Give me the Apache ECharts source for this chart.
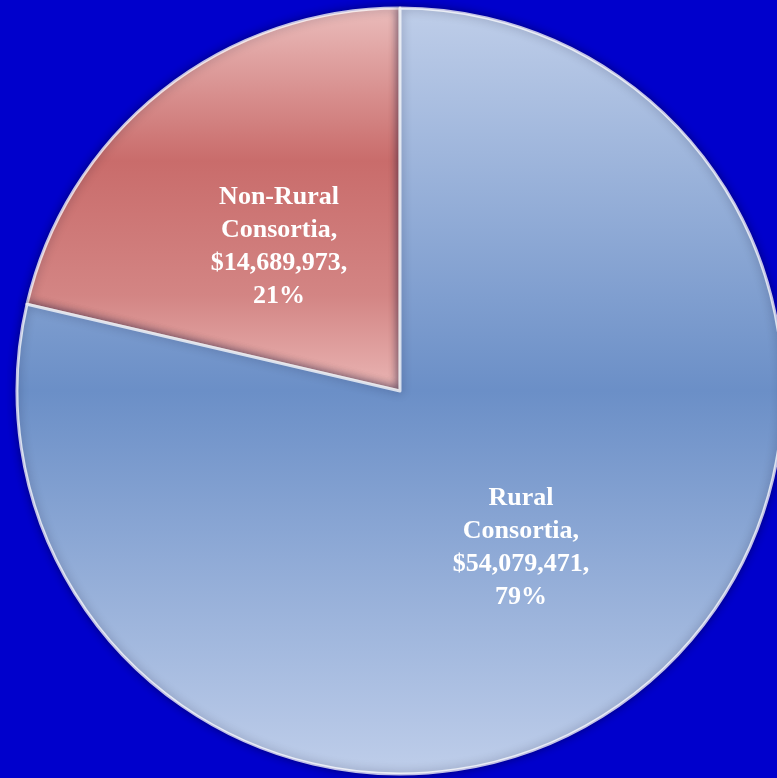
<!DOCTYPE html>
<html>
<head>
<meta charset="utf-8">
<script src="https://cdn.jsdelivr.net/npm/echarts@6/dist/echarts.min.js"></script>
<style>
html,body{margin:0;padding:0;background:#0000CC;}
#chart{width:777px;height:778px;}
</style>
</head>
<body>
<div id="chart"></div>
<script>
const categories = ['Non-Rural\nConsortia', 'Rural\nConsortia'];
const values = [14689973, 54079471];
const percents = [21, 79];

function grad(stops) {
  return new echarts.graphic.LinearGradient(0, 0, 0, 1, stops.map(s => ({offset: s[0], color: s[1]})));
}
const fills = [
  grad([[0, '#EBBDBC'], [0.4, '#C96C6B'], [0.75, '#D38584'], [1, '#EAB6B5']]),
  grad([[0, '#BFCEE9'], [0.5, '#6B8FC7'], [1, '#BFCEEA']])
];
const labelShift = [[0, 8], [0, 4]];

const chart = echarts.init(document.getElementById('chart'));
chart.setOption({
  backgroundColor: '#0000CC',
  animation: false,
  series: [{
    type: 'pie',
    center: [400, 391],
    radius: [0, 383],
    startAngle: 90,
    clockwise: false,
    percentPrecision: 0,
    itemStyle: {
      borderColor: 'rgba(255,255,255,0.75)',
      borderWidth: 3,
      shadowBlur: 10,
      shadowColor: 'rgba(0,0,40,0.5)'
    },
    label: {
      show: true,
      position: 'inside',
      color: '#FFFFFF',
      fontFamily: '"Liberation Serif", "Times New Roman", serif',
      fontWeight: 'bold',
      fontSize: 26,
      lineHeight: 33,
      align: 'center',
      formatter: function (p) {
        return p.name + ',\n$' + p.value.toLocaleString('en-US') + ',\n' + percents[p.dataIndex] + '%';
      }
    },
    labelLine: {show: false},
    data: categories.map((c, i) => ({
      name: c,
      value: values[i],
      itemStyle: {color: fills[i]},
      label: {offset: labelShift[i]}
    }))
  }]
});
</script>
</body>
</html>
